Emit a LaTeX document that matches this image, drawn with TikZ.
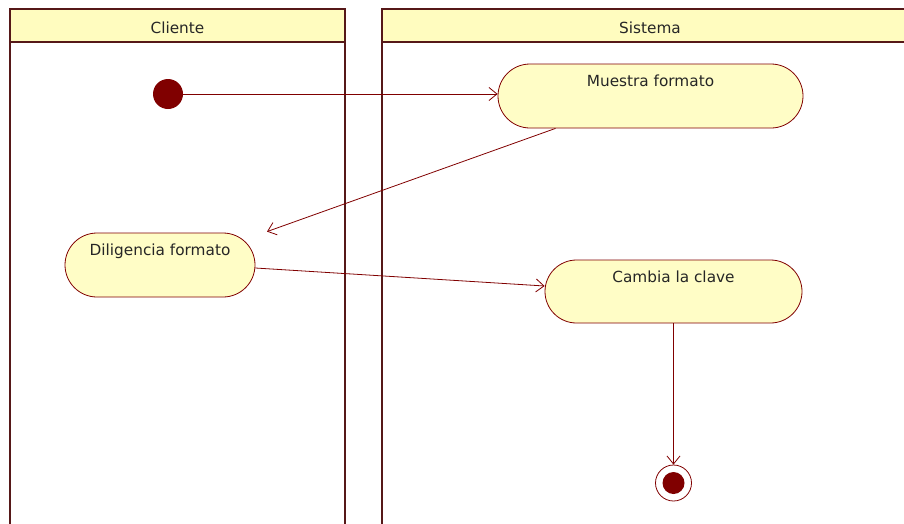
\documentclass[tikz,border=0pt]{standalone}
\usepackage{fontspec}
\setmainfont{DejaVu Sans}
\usetikzlibrary{arrows.meta,shapes.misc}
\definecolor{lane}{HTML}{561818}
\definecolor{maroon}{HTML}{800000}
\definecolor{hdr}{HTML}{FFFCBF}
\definecolor{act}{HTML}{FFFDC6}
\begin{document}
\begin{tikzpicture}[x=1pt,y=-1pt,
  every node/.style={font=\fontsize{15.3}{17}\selectfont, text=black!85},
  laneline/.style={draw=lane, line width=2.6pt},
  activity/.style={rounded rectangle, draw=maroon, fill=act, line width=0.8pt, inner sep=0pt},
  flow/.style={draw=maroon, line width=0.8pt, -{Straight Barb[length=8pt,width=13pt,line width=0.8pt]}},
  ]
\useasboundingbox (0,0) rectangle (904,523);
% swimlanes
\fill[hdr] (10,9) rectangle (345,42);
\fill[hdr] (382,9) rectangle (910,42);
\draw[laneline] (10,530) -- (10,9) -- (345,9) -- (345,530);
\draw[laneline] (10,42) -- (345,42);
\draw[laneline] (382,530) -- (382,9) -- (910,9);
\draw[laneline] (382,42) -- (910,42);
\node[anchor=base] (cliente) at (177.5,33.5) {Cliente};
\node[anchor=base] (sistema) at (650,33.5) {Sistema};
% nodes
\node[circle, fill=maroon, minimum size=30pt, inner sep=0pt] (start) at (168,94) {};
\node[activity, minimum width=305pt, minimum height=64pt] (muestra) at (650.5,96) {};
\node[anchor=base] (muestratxt) at ([yshift=-22.5pt]muestra.north) {Muestra formato};
\node[activity, minimum width=190pt, minimum height=64pt] (diligencia) at (160,265) {};
\node[anchor=base] (diligenciatxt) at ([yshift=-22.5pt]diligencia.north) {Diligencia formato};
\node[activity, minimum width=257pt, minimum height=63pt] (cambia) at (673.5,291.5) {};
\node[anchor=base] (cambiatxt) at ([yshift=-22.5pt]cambia.north) {Cambia la clave};
\node[circle, draw=maroon, fill=white, line width=0.8pt, minimum size=36pt, inner sep=0pt] (end) at (673.5,483) {};
\node[circle, fill=maroon, minimum size=22pt, inner sep=0pt] (endin) at (end.center) {};
% flows
\draw[flow] (start.east) -- (start -| muestra.west);
\draw[flow] ([xshift=-95pt]muestra.south) -- ([xshift=107pt,yshift=1pt]diligencia.north);
\draw[flow] ([yshift=-3pt]diligencia.east) -- ([yshift=5.5pt]cambia.west);
\draw[flow] (cambia.south) -- (end.north);
\end{tikzpicture}
\end{document}
